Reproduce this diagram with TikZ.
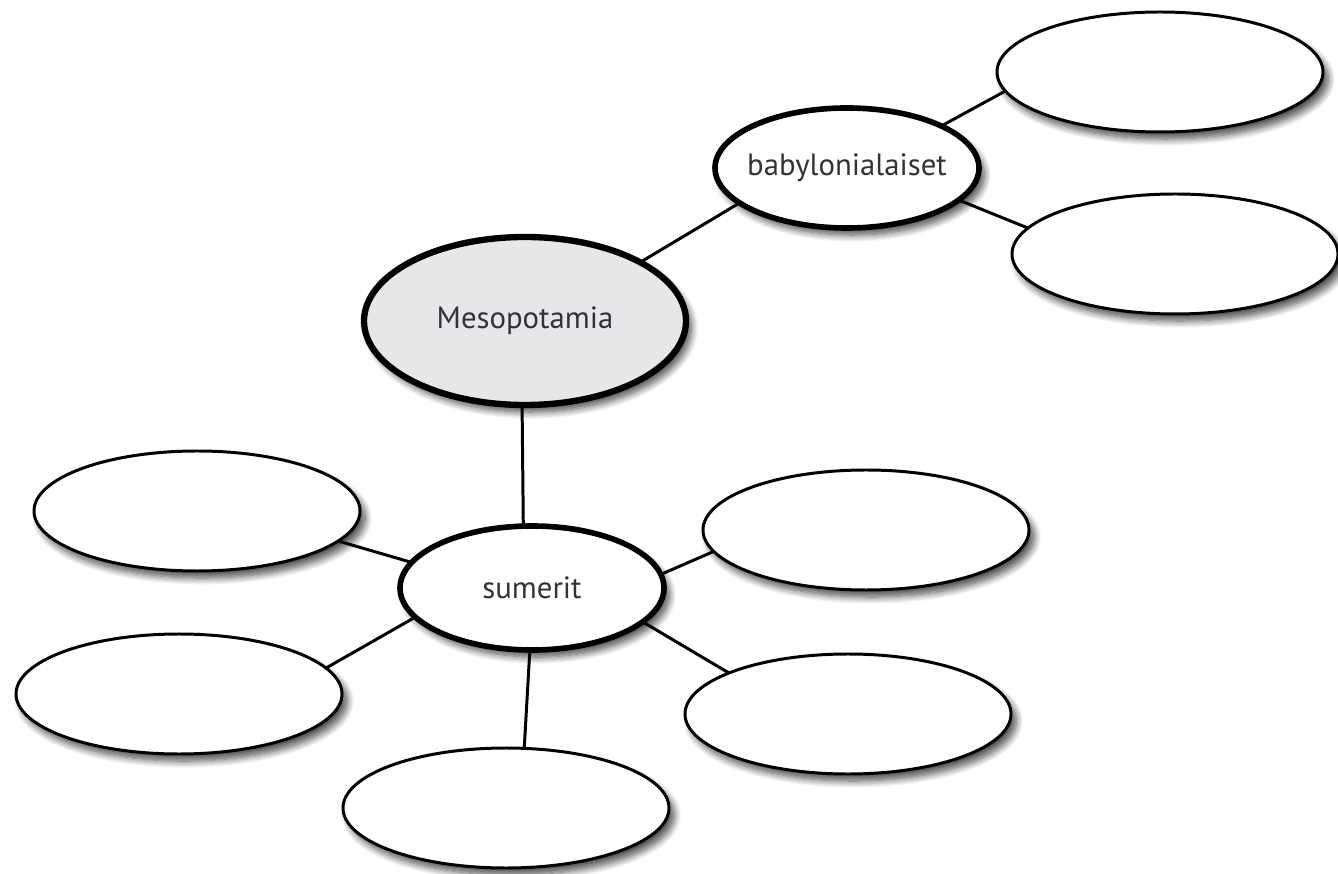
\documentclass[tikz,border=0pt]{standalone}
\usepackage{fontspec}
\setmainfont{PT Sans}
\usepackage{tikz}
\usetikzlibrary{shapes.geometric,shadows.blur}
\definecolor{mesofill}{RGB}{230,231,232}
\definecolor{txtgray}{RGB}{50,50,55}

\begin{document}
\begin{tikzpicture}[ -, line width=1.7pt,
                    main/.style = {ellipse, draw=black, fill=white, inner sep=0pt, outer sep=0pt,
                      blur shadow={shadow xshift=3pt, shadow yshift=-4pt, shadow blur steps=10, shadow blur radius=4pt, shadow opacity=70}},
                    hub/.style = {main, line width=3.2pt, minimum width=5.28cm,
                      label={[text=txtgray, font=\fontsize{17.5}{21}\selectfont]center:#1}},
                    leaf/.style = {main, minimum width=6.52cm, minimum height=2.4cm}]
\useasboundingbox (0,0) rectangle (26.76,17.46);
\node[hub=Mesopotamia, fill=mesofill, line width=3.6pt, minimum width=6.44cm, minimum height=3.36cm] (meso) at (10.5,11.04) {};
\node[hub=babylonialaiset, minimum height=2.4cm] (baby) at (16.94,14.1) {};
\node[hub=sumerit, minimum height=2.48cm] (sumer) at (10.64,5.7) {};
\node[leaf] (baby1) at (23.2,16.02) {};
\node[leaf] (baby2) at (23.5,12.38) {};
\node[leaf] (sumer1) at (3.94,7.24) {};
\node[leaf] (sumer2) at (3.58,3.58) {};
\node[leaf] (sumer3) at (10.12,1.3) {};
\node[leaf] (sumer4) at (17.32,6.86) {};
\node[leaf] (sumer5) at (16.96,3.18) {};
    \path
(meso.27) edge (baby.198)
(meso.268) edge (sumer.98)
(baby.24) edge (baby1.187.6)
(baby.344) edge (baby2.170)
(sumer.168.4) edge (sumer1.348.3)
(sumer.194) edge (sumer2.10)
(sumer.268) edge (sumer3.73.6)
(sumer.6.8) edge (sumer4.188.5)
(sumer.343) edge (sumer5.161.4);
\end{tikzpicture}
\end{document}
